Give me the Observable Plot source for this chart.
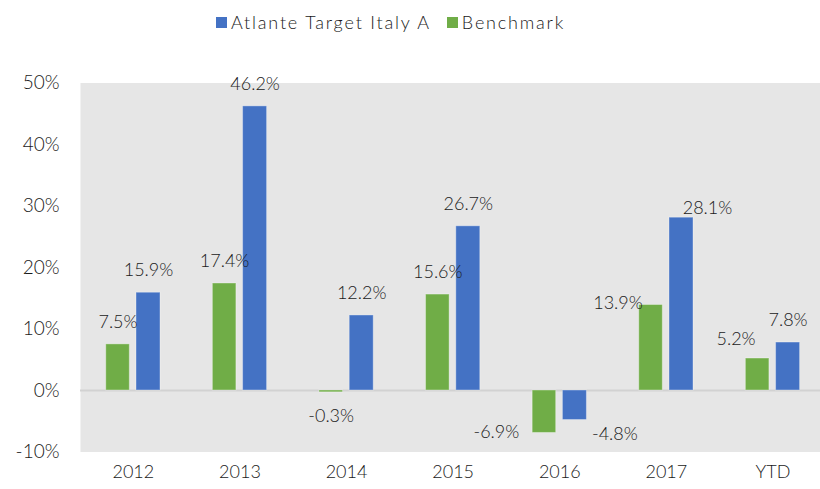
<!DOCTYPE html>
<html>
<head>
<meta charset="utf-8">
<script src="https://cdn.jsdelivr.net/npm/d3@7"></script>
<script src="https://cdn.jsdelivr.net/npm/@observablehq/plot@0.6"></script>
<style>
  html, body { margin: 0; padding: 0; background: #fff; }
  body { width: 820px; height: 489px; overflow: hidden; font-family: Lato, "Open Sans", sans-serif; font-weight: 300; }
  #legend { height: 44px; display: flex; align-items: center; padding-left: 216px; box-sizing: border-box; font-size: 18px; color: #1a1a1a; letter-spacing: 1.8px; }
  #legend .item { display: flex; align-items: center; margin-right: 16px; }
  #legend .sw { width: 11px; height: 11px; margin-right: 4px; }
  #chart svg { display: block; }
</style>
</head>
<body>
<div id="legend"></div>
<div id="chart"></div>
<script>
// ---- data ----
const years = ["2012", "2013", "2014", "2015", "2016", "2017", "YTD"];
const atlante = [15.9, 46.2, 12.2, 26.7, -4.8, 28.1, 7.8];
const benchmark = [7.5, 17.4, -0.3, 15.6, -6.9, 13.9, 5.2];
const seriesNames = ["Atlante Target Italy A", "Benchmark"];
const seriesColors = ["#4472c4", "#70ad47"];
const yTicks = [-10, 0, 10, 20, 30, 40, 50];

// ---- table built from arrays ----
const rows = [];
years.forEach((y, i) => {
  rows.push({year: y, series: "Benchmark", value: benchmark[i]});
  rows.push({year: y, series: "Atlante Target Italy A", value: atlante[i]});
});

// legend
const legend = document.getElementById("legend");
seriesNames.forEach((s, i) => {
  const it = document.createElement("div");
  it.className = "item";
  const sw = document.createElement("div");
  sw.className = "sw";
  sw.style.background = seriesColors[i];
  const t = document.createElement("span");
  t.textContent = s;
  it.appendChild(sw); it.appendChild(t);
  legend.appendChild(it);
});

// ---- styling / layout ----
const W = 820, H = 445;
const band = 106.6;
const xStart = 79.55;
const inset = {
  "Benchmark": {l: 26.2, r: 56.85, cx: -15.35},
  "Atlante Target Italy A": {l: 56.45, r: 26.15, cx: 15.15}
};
// manual label nudges (pixels) relative to default placement
const nudge = {
  "Benchmark|2016": {dx: -48, dy: -1},
  "Atlante Target Italy A|2016": {dx: 40, dy: 14.5},
  "Benchmark|2017": {dx: -33, dy: -2},
  "Atlante Target Italy A|2017": {dx: 26, dy: -9.5},
  "Benchmark|YTD": {dx: -21.5, dy: -19.5}
};

const labelMarks = rows.map(r => {
  const base = inset[r.series].cx;
  const n = nudge[r.series + "|" + r.year];
  let dx = base, dy = r.value >= 0 ? -22 : 24;
  if (n) { dx = base + n.dx; dy = n.dy; }
  return Plot.text([r], {
    x: "year", y: "value",
    text: d => d.value.toFixed(1) + "%",
    dx, dy,
    fontSize: 18, fill: "#1a1a1a", fontWeight: 300,
    letterSpacing: 1
  });
});

const barMark = s => Plot.barY(rows.filter(d => d.series === s), {
  x: "year", y: "value",
  fill: seriesColors[seriesNames.indexOf(s)],
  stroke: "#ffffff", strokeOpacity: 0.35, strokeWidth: 1,
  insetLeft: inset[s].l, insetRight: inset[s].r
});

const chart = Plot.plot({
  width: W, height: H,
  marginLeft: 80, marginRight: 0, marginTop: 38.5, marginBottom: 37.5,
  style: {fontFamily: "Lato, 'Open Sans', sans-serif", fontSize: "18px", fontWeight: 300, color: "#1a1a1a", background: "#fff"},
  x: {type: "band", domain: years, range: [xStart, xStart + band * years.length], padding: 0, round: false},
  y: {domain: [-10, 50]},
  marks: [
    Plot.frame({fill: "#e6e6e6", stroke: "none"}),
    Plot.ruleY([0], {stroke: "#d2d2d2", strokeWidth: 2}),
    barMark("Benchmark"),
    barMark("Atlante Target Italy A"),
    ...labelMarks,
    Plot.axisY({ticks: yTicks, tickFormat: d => d + "%", tickSize: 0, tickPadding: 21, fontSize: 19, label: null, letterSpacing: 2.5}),
    Plot.axisX({tickSize: 0, tickPadding: 13, fontSize: 18, label: null, letterSpacing: 1.4})
  ]
});
document.getElementById("chart").appendChild(chart);
</script>
</body>
</html>
